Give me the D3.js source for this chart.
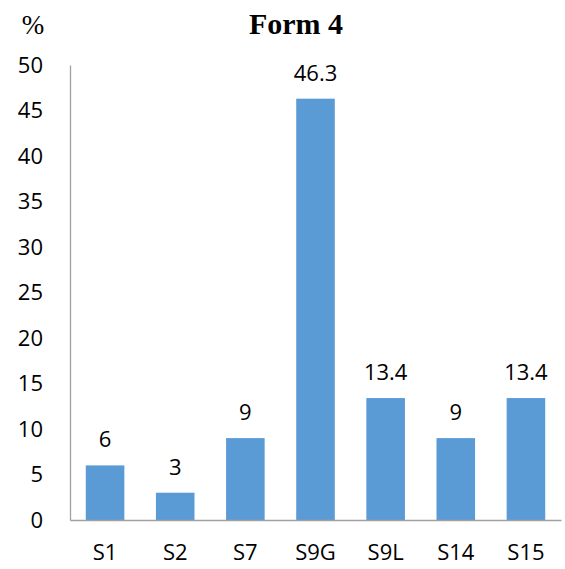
<!DOCTYPE html>
<html>
<head>
<meta charset="utf-8">
<script src="https://cdn.jsdelivr.net/npm/d3@7"></script>
<style>
  html, body { margin: 0; padding: 0; background: #fff; }
  svg { display: block; }
</style>
</head>
<body>
<script>
// Chart data
const categories = ['S1', 'S2', 'S7', 'S9G', 'S9L', 'S14', 'S15'];
const values = [6, 3, 9, 46.3, 13.4, 9, 13.4];
const yTicks = [0, 5, 10, 15, 20, 25, 30, 35, 40, 45, 50];

document.addEventListener('DOMContentLoaded', () => {
  drawChart();
});

const drawChart = () => {
  const width = 565, height = 569;
  const margin = {top: 65, bottom: 49, left: 70, right: 4};

  const svg = d3.select('body')
    .append('svg')
    .attr('width', width)
    .attr('height', height);

  // Scales ------------------------
  const x = d3.scaleBand()
    .domain(categories)
    .range([margin.left, width - margin.right])
    .paddingInner(0.45)
    .paddingOuter(0.225);

  const y = d3.scaleLinear()
    .domain([0, 50])
    .range([height - margin.bottom, margin.top]);

  // Title and unit
  svg.append('text')
    .attr('x', 296)
    .attr('y', 34)
    .attr('text-anchor', 'middle')
    .style('font-family', '"Liberation Serif", "Times New Roman", serif')
    .style('font-weight', 'bold')
    .style('font-size', '30px')
    .text('Form 4');

  svg.append('text')
    .attr('x', 33)
    .attr('y', 34)
    .attr('text-anchor', 'middle')
    .style('font-family', '"Liberation Serif", "Times New Roman", serif')
    .style('font-size', '27px')
    .text('%');

  const font = '"Open Sans", sans-serif';

  // Y-Axis -------------------------
  const yAxis = svg.append('g')
    .attr('transform', `translate(${margin.left},0)`)
    .call(d3.axisLeft(y).tickValues(yTicks).tickSize(0).tickPadding(27));
  yAxis.select('.domain').attr('stroke', '#a0a0a0').attr('stroke-width', 1.3);
  yAxis.selectAll('text')
    .style('font-family', font)
    .style('font-size', '22px')
    .attr('fill', '#000');

  // Bars ---------------------------
  svg.append('g')
    .attr('fill', '#5b9bd5')
    .selectAll('rect')
    .data(values)
    .join('rect')
    .attr('x', (d, i) => x(categories[i]))
    .attr('y', d => y(d))
    .attr('width', x.bandwidth())
    .attr('height', d => y(0) - y(d));

  // Value labels
  svg.append('g')
    .selectAll('text')
    .data(values)
    .join('text')
    .attr('x', (d, i) => x(categories[i]) + x.bandwidth() / 2)
    .attr('y', d => y(d) - 18)
    .attr('text-anchor', 'middle')
    .style('font-family', font)
    .style('font-size', '22px')
    .text(d => d);

  // X-Axis -------------------------
  const xAxis = svg.append('g')
    .attr('transform', `translate(0,${y(0)})`)
    .call(d3.axisBottom(x).tickSize(0).tickPadding(24).tickSizeOuter(0));
  xAxis.select('.domain').attr('stroke', '#a0a0a0').attr('stroke-width', 1.3);
  xAxis.selectAll('text')
    .style('font-family', font)
    .style('font-size', '22px')
    .attr('fill', '#000');
}
</script>
</body>
</html>
